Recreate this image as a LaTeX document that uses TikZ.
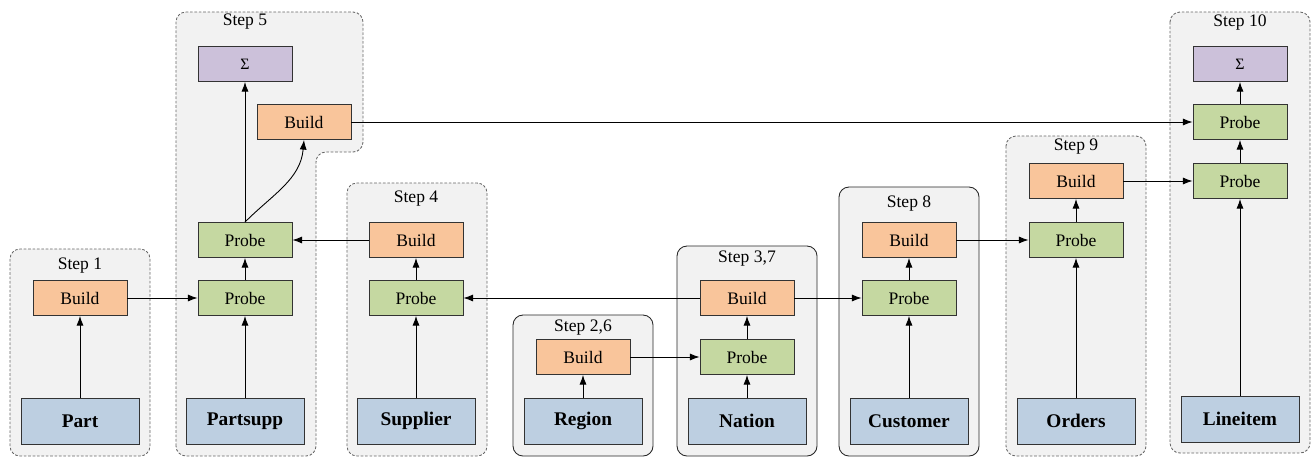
\documentclass[tikz,border=0pt]{standalone}
\usepackage{fontspec}
\setmainfont{Liberation Serif}
\usepackage{tikz}
\usetikzlibrary{positioning}
\usetikzlibrary{arrows.meta}
\definecolor{buildcol}{RGB}{249,197,155}
\definecolor{probecol}{RGB}{197,216,161}
\definecolor{sumcol}{RGB}{204,193,218}
\definecolor{relcol}{RGB}{189,207,225}
\definecolor{boxcol}{RGB}{242,242,242}
\tikzset{every picture/.style={line width=0.5pt},
op/.style={draw=black!80,minimum width=1.88cm,minimum height=0.7cm,inner sep=0pt},
build/.style={op,fill=buildcol},
probe/.style={op,fill=probecol},
aggr/.style={op,fill=sumcol,font=\small},
rel/.style={draw=black!80,fill=relcol,minimum width=2.36cm,minimum height=0.92cm,inner sep=0pt,font=\fontsize{11}{13}\selectfont\bfseries},
stepbox/.style={fill=boxcol,draw=black!60,dash pattern=on 1.5pt off 1pt,rounded corners=0.2cm},
stepsolid/.style={fill=boxcol,draw=black!85,rounded corners=0.2cm},
steplabel/.style={inner sep=0pt},
flow/.style={-{Latex[length=5.5pt,width=4pt]}}}

\begin{document}
\begin{tikzpicture}[x=0.02cm,y=-0.02cm]
\useasboundingbox (0,0) rectangle (1312,457);
% step containers
\draw[stepbox] (10,249) rectangle (150,456);
\draw[stepbox] (176,456) -- (176,12) -- (363,12) -- (363,152) -- (316,152) -- (316,456) -- cycle;
\draw[stepbox] (347,183) rectangle (487,456);
\draw[stepsolid] (513,315) rectangle (653,456);
\draw[stepsolid] (677,246) rectangle (817,456);
\draw[stepsolid] (839,187) rectangle (979,456);
\draw[stepbox] (1006,136) rectangle (1146,456);
\draw[stepbox] (1170,12) rectangle (1310,453);
\node[steplabel] (st1) at (80,266) {Step 1};
\node[steplabel] (st5) at (245,22) {Step 5};
\node[steplabel] (st4) at (416,199) {Step 4};
\node[steplabel] (st26) at (583,328) {Step 2,6};
\node[steplabel] (st37) at (747,259) {Step 3,7};
\node[steplabel] (st8) at (909,204) {Step 8};
\node[steplabel] (st9) at (1076,147) {Step 9};
\node[steplabel] (st10) at (1240,23) {Step 10};
% relations
\node[rel] (part) at (80,421) {Part};
\node[rel] (partsupp) at (245,421) {Partsupp};
\node[rel] (supplier) at (416,421) {Supplier};
\node[rel] (region) at (583,421) {Region};
\node[rel] (nation) at (747,421) {Nation};
\node[rel] (customer) at (909,421) {Customer};
\node[rel] (orders) at (1076,421) {Orders};
\node[rel] (lineitem) at (1240,419) {Lineitem};
% operators
\node[build] (b1) at (80,298) {Build};
\node[probe] (p5a) at (245,298) {Probe};
\node[probe] (p5b) at (245,240) {Probe};
\node[build] (b5) at (304,122) {Build};
\node[aggr] (s5) at (245,64) {Σ};
\node[probe] (p4) at (416,298) {Probe};
\node[build] (b4) at (416,240) {Build};
\node[build] (b26) at (583,357) {Build};
\node[probe] (p37) at (747,357) {Probe};
\node[build] (b37) at (747,298) {Build};
\node[probe] (p8) at (909,298) {Probe};
\node[build] (b8) at (909,240) {Build};
\node[probe] (p9) at (1076,240) {Probe};
\node[build] (b9) at (1076,181) {Build};
\node[probe] (p10a) at (1240,181) {Probe};
\node[probe] (p10b) at (1240,122) {Probe};
\node[aggr] (s10) at (1240,64) {Σ};
% edges
\draw[flow] (part) -- (b1);
\draw[flow] (b1) -- (p5a);
\draw[flow] (partsupp) -- (p5a);
\draw[flow] (p5a) -- (p5b);
\draw[flow] (p5b) -- (s5);
\draw[flow] (p5b.north) to[out=45,in=-95] (b5.south);
\draw[flow] (b5) -- (p10b);
\draw[flow] (supplier) -- (p4);
\draw[flow] (p4) -- (b4);
\draw[flow] (b4) -- (p5b);
\draw[flow] (region) -- (b26);
\draw[flow] (b26) -- (p37);
\draw[flow] (nation) -- (p37);
\draw[flow] (p37) -- (b37);
\draw[flow] (b37) -- (p4);
\draw[flow] (b37) -- (p8);
\draw[flow] (customer) -- (p8);
\draw[flow] (p8) -- (b8);
\draw[flow] (b8) -- (p9);
\draw[flow] (orders) -- (p9);
\draw[flow] (p9) -- (b9);
\draw[flow] (b9) -- (p10a);
\draw[flow] (lineitem) -- (p10a);
\draw[flow] (p10a) -- (p10b);
\draw[flow] (p10b) -- (s10);
\end{tikzpicture}
\end{document}
